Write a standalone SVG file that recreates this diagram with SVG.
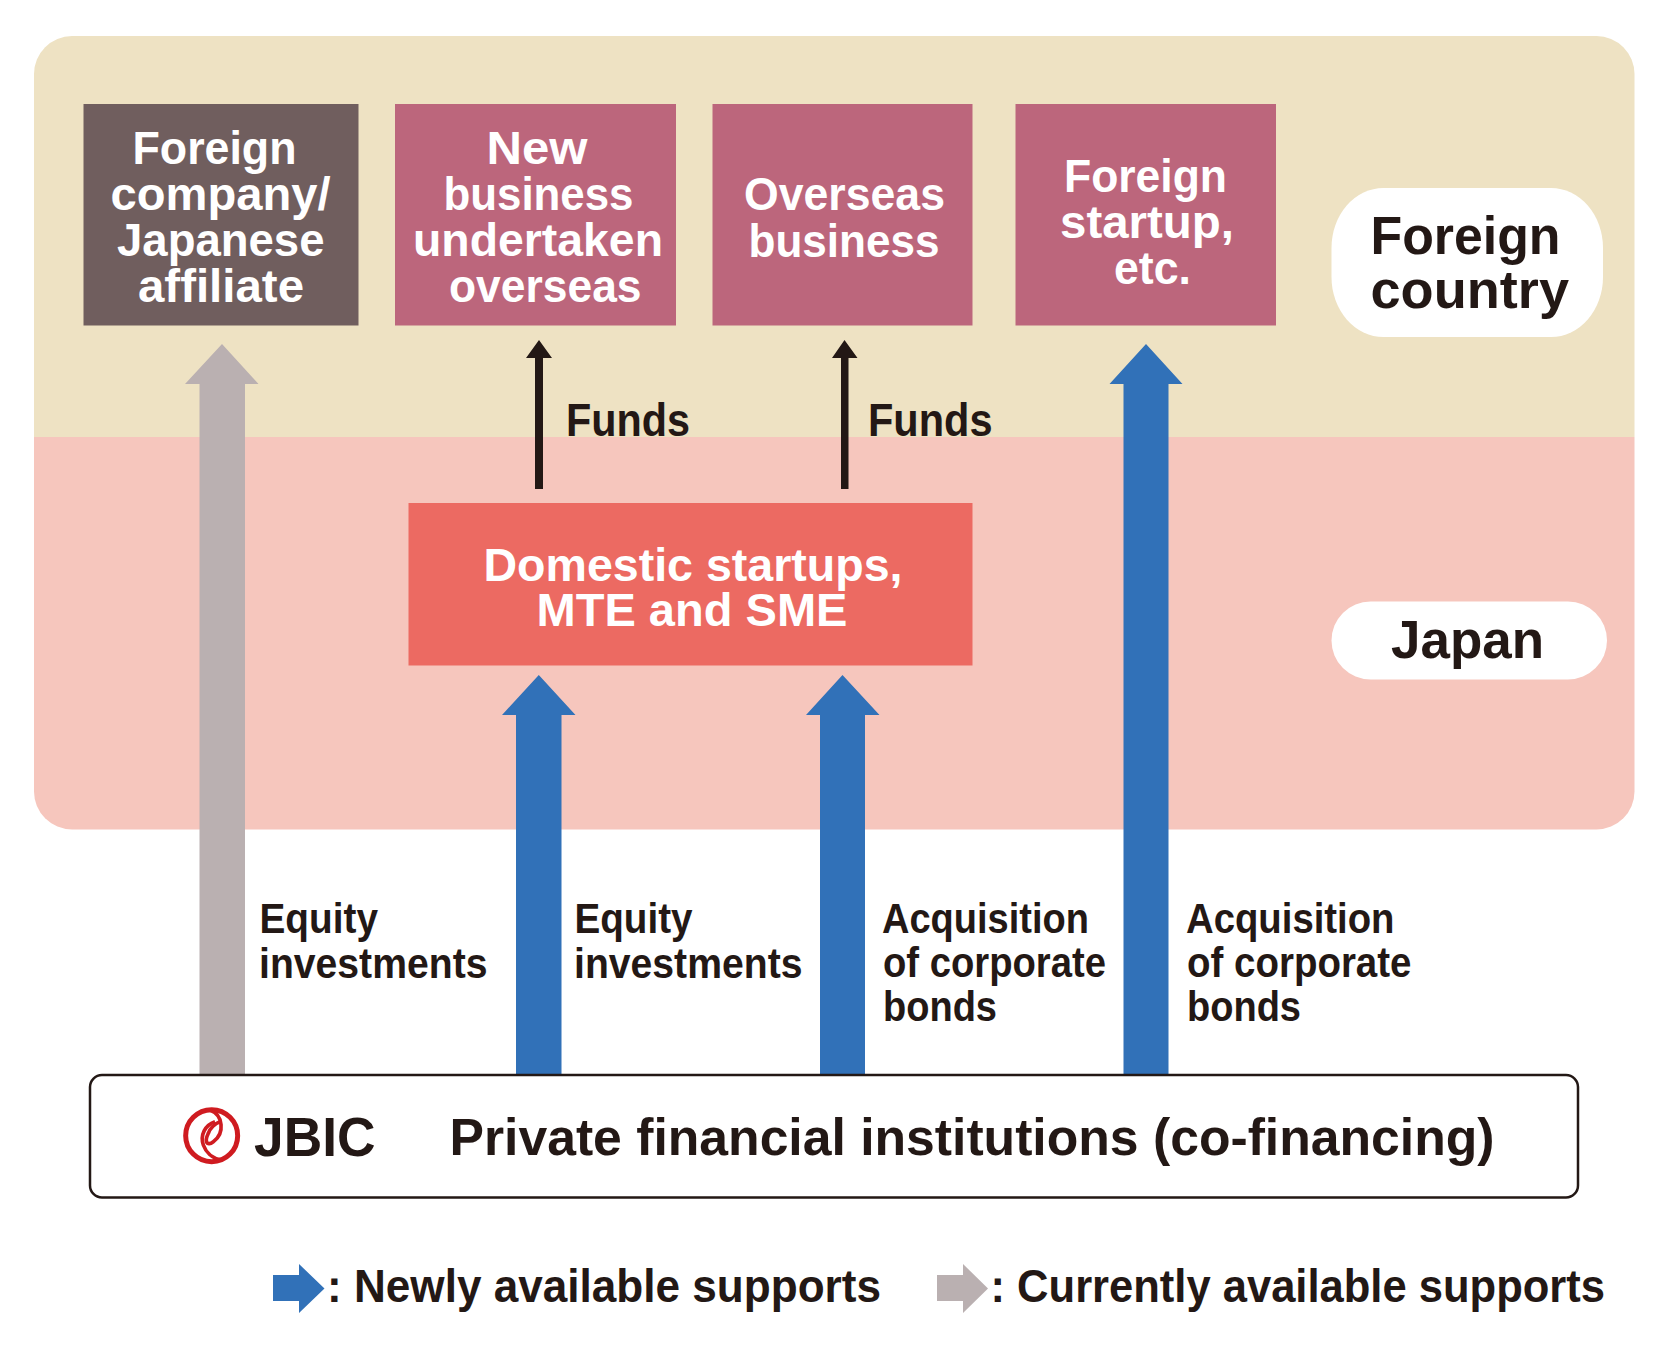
<svg xmlns="http://www.w3.org/2000/svg" width="1667" height="1351" viewBox="0 0 1667 1351">
<style>
text{font-family:"Liberation Sans",Arial,sans-serif;font-weight:700;fill:#231815}
.w{fill:#fff}
.n{font-size:46px}
.s{font-size:43px}
.l{font-size:54px}
.b{font-size:47px}
.blue{fill:#3171b8}
.gray{fill:#bab0b1}
.blk{fill:#231815}
.rose{fill:#bc667c}
</style>
<g id="background">
<path d="M34 437V74A38 38 0 0 1 72 36H1596.500A38 38 0 0 1 1634.500 74V437Z" fill="#eee2c3"/>
<path d="M34 437H1634.500V791.500A38 38 0 0 1 1596.500 829.500H72A38 38 0 0 1 34 791.500Z" fill="#f6c6bd"/>
</g>
<g id="node-foreign-company"><rect x="83.500" y="104" width="275" height="221.500" fill="#705e5e"/>
<text class="n w" x="132.500" y="163.500" textLength="164" lengthAdjust="spacingAndGlyphs">Foreign</text>
<text class="n w" x="110.500" y="210" textLength="220" lengthAdjust="spacingAndGlyphs">company/</text>
<text class="n w" x="117" y="255.500" textLength="207.500" lengthAdjust="spacingAndGlyphs">Japanese</text>
<text class="n w" x="138" y="302" textLength="166" lengthAdjust="spacingAndGlyphs">affiliate</text></g>
<g id="node-new-business"><rect class="rose" x="395" y="104" width="281" height="221.500"/>
<text class="n w" x="486.500" y="163.500" textLength="101" lengthAdjust="spacingAndGlyphs">New</text>
<text class="n w" x="443.500" y="210" textLength="190" lengthAdjust="spacingAndGlyphs">business</text>
<text class="n w" x="413" y="255.500" textLength="250" lengthAdjust="spacingAndGlyphs">undertaken</text>
<text class="n w" x="449" y="302" textLength="192.500" lengthAdjust="spacingAndGlyphs">overseas</text></g>
<g id="node-overseas-business"><rect class="rose" x="712.500" y="104" width="260" height="221.500"/>
<text class="n w" x="744" y="210" textLength="201" lengthAdjust="spacingAndGlyphs">Overseas</text>
<text class="n w" x="748.500" y="256.500" textLength="191" lengthAdjust="spacingAndGlyphs">business</text></g>
<g id="node-foreign-startup"><rect class="rose" x="1015.500" y="104" width="260.500" height="221.500"/>
<text class="n w" x="1064" y="191.500" textLength="163" lengthAdjust="spacingAndGlyphs">Foreign</text>
<text class="n w" x="1060" y="238" textLength="174" lengthAdjust="spacingAndGlyphs">startup,</text>
<text class="n w" x="1114" y="284" textLength="77" lengthAdjust="spacingAndGlyphs">etc.</text></g>
<g id="node-foreign-country"><rect x="1331.500" y="188" width="271.500" height="149" rx="52" ry="60" fill="#fff"/>
<text class="l" x="1370.500" y="254" textLength="190" lengthAdjust="spacingAndGlyphs">Foreign</text>
<text class="l" x="1370.500" y="308" textLength="198.500" lengthAdjust="spacingAndGlyphs">country</text></g>
<g id="node-japan"><rect x="1331.500" y="601.500" width="275.500" height="78" rx="39" fill="#fff"/>
<text class="l" x="1391" y="658" textLength="153" lengthAdjust="spacingAndGlyphs">Japan</text></g>
<g id="node-domestic"><rect x="408.500" y="503" width="564" height="162.500" fill="#ec6a62"/>
<text class="n w" x="483.500" y="581" textLength="419" lengthAdjust="spacingAndGlyphs">Domestic startups,</text>
<text class="n w" x="536.500" y="626" textLength="311" lengthAdjust="spacingAndGlyphs">MTE and SME</text></g>
<g id="connectors">
<path class="gray" d="M199.500 1077V384H185L222 344L258.500 384H245V1077Z"/>
<path class="blue" d="M516 1077V715H502L538.800 675L575.500 715H561.500V1077Z"/>
<path class="blue" d="M820 1077V715H806L842.500 675L879.500 715H865V1077Z"/>
<path class="blue" d="M1123.500 1077V384H1109.500L1146 344L1182.500 384H1168.500V1077Z"/>
<path class="blk" d="M535 489V358H526L539 340L552 358H543V489Z"/>
<path class="blk" d="M841 489V358H832L844.500 340L857.500 358H848.500V489Z"/>
</g>
<g id="labels">
<text class="n" x="566" y="436" textLength="124" lengthAdjust="spacingAndGlyphs">Funds</text>
<text class="n" x="868" y="436" textLength="124.500" lengthAdjust="spacingAndGlyphs">Funds</text>
<text class="s" x="259.500" y="933" textLength="118.500" lengthAdjust="spacingAndGlyphs">Equity</text>
<text class="s" x="259" y="977.500" textLength="228.500" lengthAdjust="spacingAndGlyphs">investments</text>
<text class="s" x="574.500" y="933" textLength="118" lengthAdjust="spacingAndGlyphs">Equity</text>
<text class="s" x="574" y="977.500" textLength="228.500" lengthAdjust="spacingAndGlyphs">investments</text>
<text class="s" x="882" y="933" textLength="207" lengthAdjust="spacingAndGlyphs">Acquisition</text>
<text class="s" x="883" y="977" textLength="223" lengthAdjust="spacingAndGlyphs">of corporate</text>
<text class="s" x="883" y="1020.500" textLength="114" lengthAdjust="spacingAndGlyphs">bonds</text>
<text class="s" x="1186" y="933" textLength="208.500" lengthAdjust="spacingAndGlyphs">Acquisition</text>
<text class="s" x="1187" y="977" textLength="224.500" lengthAdjust="spacingAndGlyphs">of corporate</text>
<text class="s" x="1187" y="1020.500" textLength="114" lengthAdjust="spacingAndGlyphs">bonds</text>
</g>
<g id="node-institutions"><rect x="90" y="1075" width="1488" height="122.500" rx="12" fill="#fff" stroke="#231815" stroke-width="2.500"/>
<g transform="translate(160 1080) scale(.3333)" fill="none" stroke="#cf1b20">
<circle cx="155" cy="167" r="78" stroke-width="15"/>
<path stroke-width="11" d="M150 90C190 105 195 160 160 185C140 200 133 185 145 160C150 145 165 130 180 125"/>
<path stroke-width="11" d="M165 125C135 135 120 165 130 195C137 215 155 235 185 240"/>
</g>
<text x="254" y="1156" style="font-size:56px" textLength="121.500" lengthAdjust="spacingAndGlyphs">JBIC</text>
<text x="449.500" y="1155" style="font-size:52px" textLength="1045" lengthAdjust="spacingAndGlyphs">Private financial institutions (co-financing)</text></g>
<g id="legend">
<path class="blue" d="M273 1275H299V1264L324.500 1288.500L299 1313V1301H273Z"/>
<text class="b" x="327" y="1301.500" textLength="554" lengthAdjust="spacingAndGlyphs">: Newly available supports</text>
<path class="gray" d="M937 1275H963V1264L988 1288.500L963 1313V1301H937Z"/>
<text class="b" x="990.500" y="1301.500" textLength="614.500" lengthAdjust="spacingAndGlyphs">: Currently available supports</text>
</g>
</svg>
